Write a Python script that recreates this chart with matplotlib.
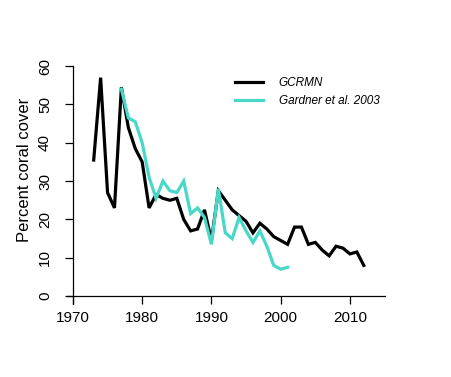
import numpy as np
import matplotlib
matplotlib.use("Agg")
import matplotlib.pyplot as plt

plt.rcParams['font.family'] = ['Liberation Sans', 'DejaVu Sans']

# GCRMN annual coral cover
gcrmn_years = list(range(1973, 2013))
gcrmn_cover = [35.5, 57, 27, 23, 54.5, 44, 38.5, 35, 23, 26.5,
               25.5, 25, 25.5, 20, 17, 17.5, 22.5, 14.5, 27.5, 25,
               22.5, 21, 19.5, 16.5, 19, 17.5, 15.5, 14.5, 13.5, 18,
               18, 13.5, 14, 12, 10.5, 13, 12.5, 11, 11.5, 8]

# Gardner et al. 2003
gardner_years = list(range(1977, 2002))
gardner_cover = [54, 46.5, 45.5, 40, 31, 25.5, 30, 27.5, 27, 30,
                 21.5, 23, 20.5, 13.5, 28, 16.5, 15, 20.5, 17, 14,
                 17, 13, 8, 7, 7.5]

x_ticks = [1970, 1980, 1990, 2000, 2010]
y_ticks = [0, 10, 20, 30, 40, 50, 60]

fig = plt.figure(figsize=(4.52, 3.77), dpi=100)
ax = fig.add_axes([66 / 452, 1 - 303.7 / 377, 322 / 452, 245.2 / 377])

ax.plot(gcrmn_years, gcrmn_cover, color='black', lw=2.3, label='GCRMN',
        solid_joinstyle='miter')
ax.plot(gardner_years, gardner_cover, color='#48d8c8', lw=2.3,
        label='Gardner et al. 2003', solid_joinstyle='miter')

ax.set_xlim(1969, 2015.5)
ax.set_ylim(-2, 62)

ax.spines['top'].set_visible(False)
ax.spines['right'].set_visible(False)
ax.spines['left'].set_position(('data', 1970))
ax.spines['left'].set_bounds(-2, 60)
ax.spines['bottom'].set_position(('data', 0))
ax.spines['bottom'].set_bounds(1969.1, 2015)
for s in ['left', 'bottom']:
    ax.spines[s].set_linewidth(0.9)

ax.set_xticks(x_ticks)
ax.set_yticks(y_ticks)
ax.tick_params(axis='both', direction='out', length=6, width=0.9,
               labelsize=11)
ax.tick_params(axis='x', pad=5)
ax.tick_params(axis='y', pad=9)
for lab in ax.get_yticklabels():
    lab.set_rotation(90)
    lab.set_va('center')

ax.set_ylabel('Percent coral cover', fontsize=12)
ax.yaxis.set_label_coords(-0.105, 0.545)

leg = ax.legend(loc='upper left', bbox_to_anchor=(235 / 452, 1 - 77 / 377),
                bbox_transform=fig.transFigure, frameon=False,
                fontsize=8.5, handlelength=2.4, handletextpad=1.3,
                labelspacing=0.55, borderpad=0, borderaxespad=0)
for t in leg.get_texts():
    t.set_style('italic')

fig.savefig('out.png', dpi=100)
